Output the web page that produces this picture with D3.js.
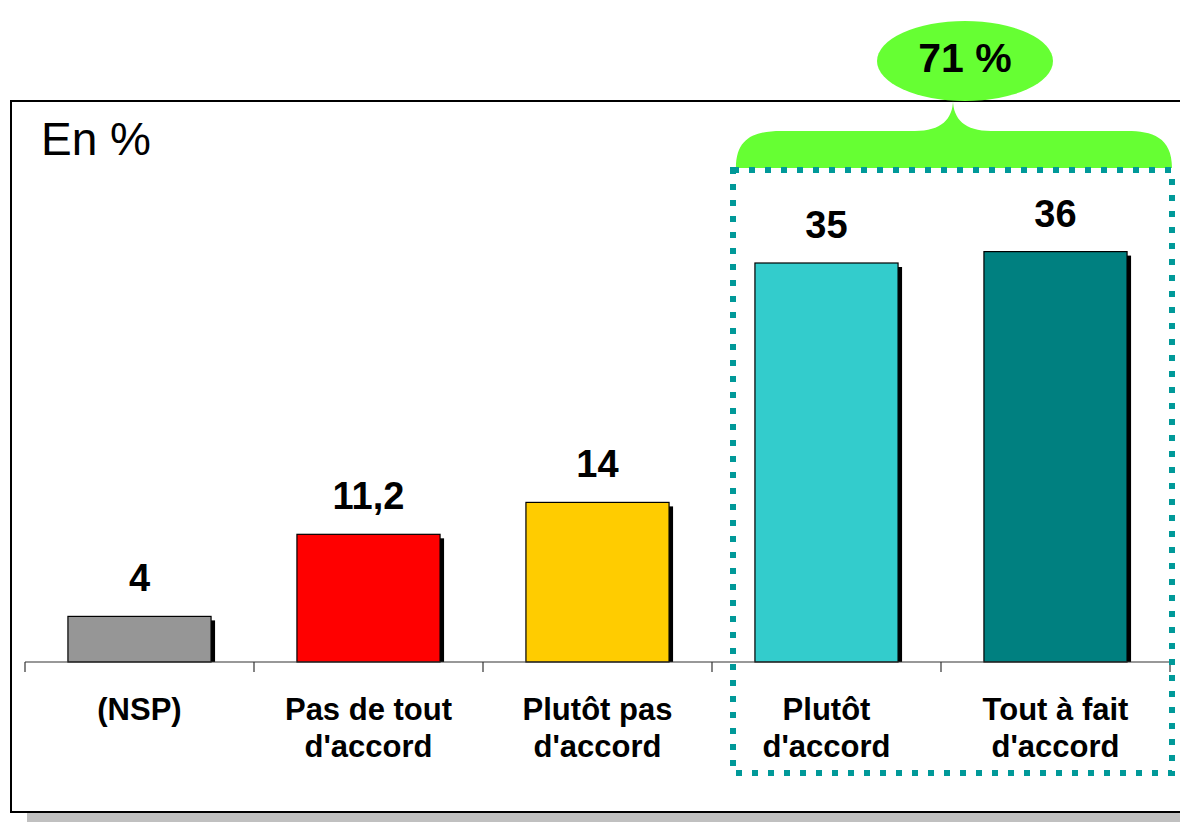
<!DOCTYPE html>
<html>
<head>
<meta charset="utf-8">
<script src="https://cdn.jsdelivr.net/npm/d3@7"></script>
<style>
  body { margin: 0; background: #fff; }
  svg { display: block; font-family: "Liberation Sans", Arial, sans-serif; }
</style>
</head>
<body>
<div class="svg-container"></div>
<script>
var categories = ["(NSP)", "Pas de tout d'accord", "Plutôt pas d'accord", "Plutôt d'accord", "Tout à fait d'accord"];
var categoryLines = [["(NSP)"], ["Pas de tout", "d'accord"], ["Plutôt pas", "d'accord"], ["Plutôt", "d'accord"], ["Tout à fait", "d'accord"]];
var values = [4, 11.2, 14, 35, 36];
var barColors = ["#969696", "#ff0000", "#ffcc00", "#33cccc", "#008080"];
var groupLabel = "71 %";
var unitLabel = "En %";

var width = 1180;
var height = 822;
var baseY = 662;

var svg = d3.select(".svg-container").append("svg")
    .attr("width", width)
    .attr("height", height);

// frame + shadow
svg.append("rect")
    .attr("x", 27).attr("y", 813)
    .attr("width", width).attr("height", 12)
    .attr("fill", "#c0c0c0");
svg.append("rect")
    .attr("x", 11).attr("y", 101)
    .attr("width", width + 20).attr("height", 711)
    .attr("fill", "#fff")
    .attr("stroke", "#000")
    .attr("stroke-width", 2);

// scales
var x = d3.scaleBand()
    .domain(categories)
    .range([25, 1170])
    .paddingInner(0.375)
    .paddingOuter(0.1875);

var y = d3.scaleLinear()
    .domain([0, 40])
    .range([baseY, baseY - 40 * 11.4]);

// bars
var bars = svg.append("g");
var bar = bars.selectAll("g").data(values).enter().append("g");
bar.append("rect")
    .attr("x", function(d, i) { return x(categories[i]) + 4; })
    .attr("y", function(d) { return y(d) + 4; })
    .attr("width", x.bandwidth())
    .attr("height", function(d) { return baseY - y(d) - 4; })
    .attr("fill", "#000");
bar.append("rect")
    .attr("x", function(d, i) { return x(categories[i]); })
    .attr("y", function(d) { return y(d); })
    .attr("width", x.bandwidth())
    .attr("height", function(d) { return baseY - y(d); })
    .attr("fill", function(d, i) { return barColors[i]; })
    .attr("stroke", "#000")
    .attr("stroke-width", 1.2);

// value labels
bar.append("text")
    .attr("x", function(d, i) { return x(categories[i]) + x.bandwidth() / 2; })
    .attr("y", function(d) { return y(d) - 25; })
    .attr("text-anchor", "middle")
    .attr("font-size", 38)
    .attr("font-weight", "bold")
    .text(function(d) { return String(d).replace(".", ","); });

// axis
var step = x.step();
var tickPos = categories.map(function(c) { return x(c) - step * x.paddingInner() / 2; });
tickPos.push(tickPos[tickPos.length - 1] + step);
var axis = svg.append("g").attr("stroke", "#333").attr("stroke-width", 1.2);
axis.append("line")
    .attr("x1", tickPos[0]).attr("x2", tickPos[tickPos.length - 1])
    .attr("y1", baseY).attr("y2", baseY);
axis.selectAll(".tick").data(tickPos).enter().append("line")
    .attr("x1", function(d) { return d; }).attr("x2", function(d) { return d; })
    .attr("y1", baseY).attr("y2", baseY + 10);

// category labels
var cat = svg.append("g").selectAll("text").data(categoryLines).enter().append("text")
    .attr("text-anchor", "middle")
    .attr("font-size", 31)
    .attr("font-weight", "bold");
cat.selectAll("tspan").data(function(d, i) { return d.map(function(t) { return { t: t, i: i }; }); })
    .enter().append("tspan")
    .attr("x", function(d) { return x(categories[d.i]) + x.bandwidth() / 2; })
    .attr("y", function(d, j) { return 720 + j * 37; })
    .text(function(d) { return d.t; });

// unit label
svg.append("text")
    .attr("x", 41).attr("y", 155)
    .attr("font-size", 46)
    .text(unitLabel);

// green brace
var bx0 = x(categories[3]) - 19, bx1 = 1172, bTop = 131, bBot = 168, cusp = 953;
var brace = d3.path();
brace.moveTo(bx0, bBot);
brace.bezierCurveTo(bx0, bTop + 6, bx0 + 20, bTop, bx0 + 45, bTop);
brace.lineTo(cusp - 38, bTop);
brace.bezierCurveTo(cusp - 12, bTop, cusp, bTop - 12, cusp, 100);
brace.bezierCurveTo(cusp, bTop - 12, cusp + 12, bTop, cusp + 38, bTop);
brace.lineTo(bx1 - 45, bTop);
brace.bezierCurveTo(bx1 - 20, bTop, bx1, bTop + 6, bx1, bBot);
brace.closePath();
svg.append("path").attr("d", brace.toString()).attr("fill", "#66ff33");

svg.append("ellipse")
    .attr("cx", 965).attr("cy", 61)
    .attr("rx", 88).attr("ry", 40)
    .attr("fill", "#66ff33");
svg.append("text")
    .attr("x", 965).attr("y", 72)
    .attr("text-anchor", "middle")
    .attr("font-size", 41)
    .attr("font-weight", "bold")
    .text(groupLabel);

// dotted group box
svg.append("rect")
    .attr("x", 733).attr("y", 170)
    .attr("width", 439).attr("height", 603)
    .attr("fill", "none")
    .attr("stroke", "#009999")
    .attr("stroke-width", 6)
    .attr("stroke-dasharray", "6 10");
</script>
</body>
</html>
